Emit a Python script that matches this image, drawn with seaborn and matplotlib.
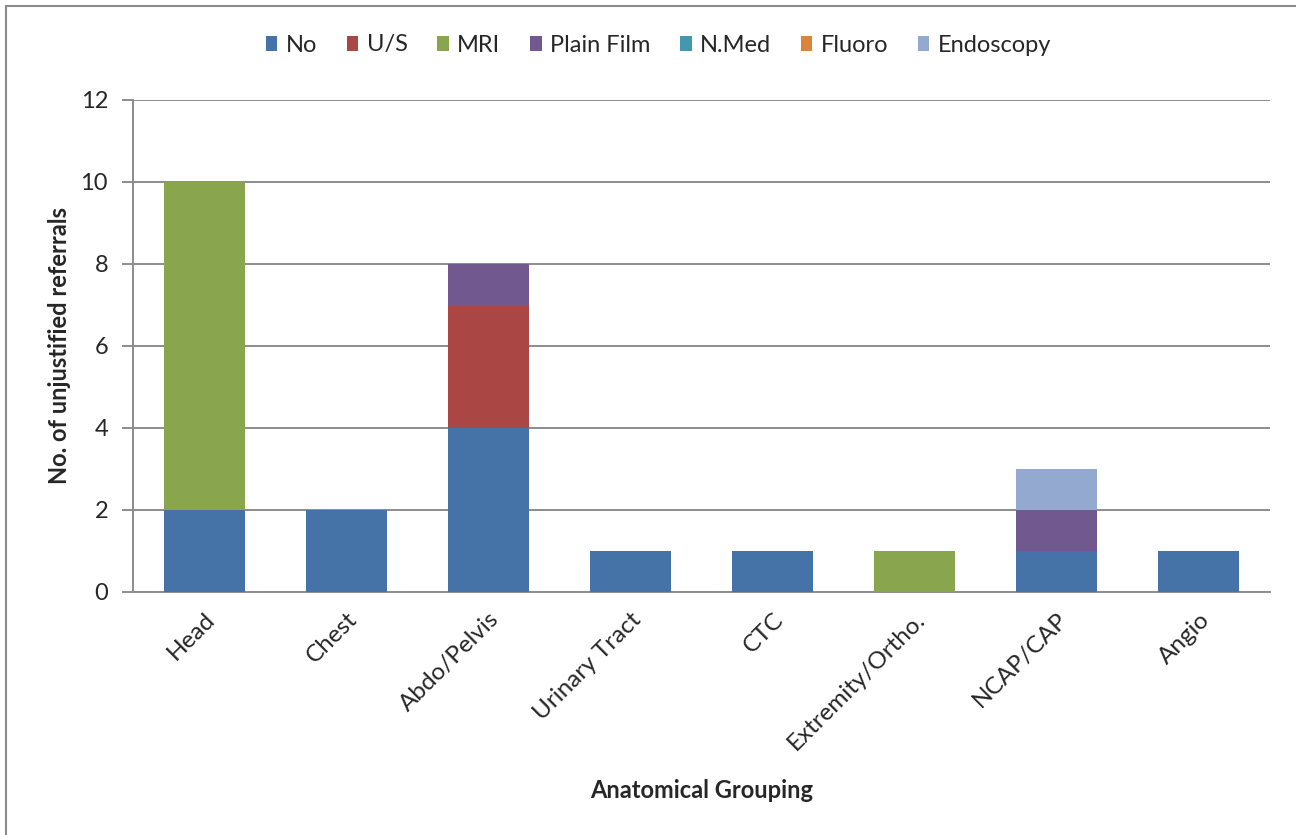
import matplotlib
matplotlib.use("Agg")
import matplotlib.pyplot as plt
from matplotlib.patches import Patch
from matplotlib.lines import Line2D
import numpy as np
import seaborn as sns

categories = ["Head", "Chest", "Abdo/Pelvis", "Urinary Tract", "CTC",
              "Extremity/Ortho.", "NCAP/CAP", "Angio"]
series_names = ["No", "U/S", "MRI", "Plain Film", "N.Med", "Fluoro", "Endoscopy"]
no_vals = [2, 2, 4, 1, 1, 0, 1, 1]
us_vals = [0, 0, 3, 0, 0, 0, 0, 0]
mri_vals = [8, 0, 0, 0, 0, 1, 0, 0]
plain_film_vals = [0, 0, 1, 0, 0, 0, 1, 0]
nmed_vals = [0, 0, 0, 0, 0, 0, 0, 0]
fluoro_vals = [0, 0, 0, 0, 0, 0, 0, 0]
endoscopy_vals = [0, 0, 0, 0, 0, 0, 1, 0]
y_ticks = [0, 2, 4, 6, 8, 10, 12]

colors = ["#4572A7", "#AA4643", "#89A54E", "#71588F", "#4198AF", "#DB843D", "#93A9CF"]

sns.set_theme(style="white")
plt.rcParams["font.family"] = ["Lato", "DejaVu Sans"]

fig = plt.figure(figsize=(12.96, 8.35), dpi=100)
ax = fig.add_axes([133 / 1296, 1 - 592 / 835, (1270 - 133) / 1296, (592 - 100) / 835])

all_series = [no_vals, us_vals, mri_vals, plain_film_vals, nmed_vals, fluoro_vals, endoscopy_vals]
bottom = np.zeros(len(categories))
for vals, col in zip(all_series, colors):
    vals = np.asarray(vals, dtype=float)
    sns.barplot(x=categories, y=vals, bottom=bottom, color=col, width=0.57,
                saturation=1, ax=ax, zorder=3, linewidth=0)
    bottom = bottom + vals

ax.set_ylim(0, 12)
ax.set_xlim(-0.5, len(categories) - 0.5)
ax.set_yticks(y_ticks)
ax.set_yticklabels([str(t) for t in y_ticks], fontsize=17)
ax.yaxis.grid(True, color="#8C8C8C", linewidth=1.4, zorder=0)
ax.set_axisbelow(True)
for side in ["top", "right"]:
    ax.spines[side].set_visible(False)
ax.spines["left"].set_color("#8C8C8C")
ax.spines["left"].set_linewidth(1.4)
ax.spines["bottom"].set_color("#8C8C8C")
ax.spines["bottom"].set_linewidth(1.4)
ax.tick_params(axis="y", length=8, width=1.4, color="#8C8C8C", pad=10, left=True)
ax.tick_params(axis="x", length=0, pad=12)
ax.set_xticks(range(len(categories)))
ax.set_xticklabels(categories, rotation=45, ha="right", rotation_mode="anchor", fontsize=17.5)

ax.set_ylabel("No. of unjustified referrals", fontsize=17, fontweight="bold", labelpad=7)
ax.set_xlabel("Anatomical Grouping", fontsize=17, fontweight="bold", labelpad=18)

handles = [Patch(facecolor=c, edgecolor="none") for c in colors]
fig.legend(handles, series_names, loc="center", bbox_to_anchor=(0.508, 1 - 45 / 835),
           ncol=7, frameon=False, fontsize=17, handlelength=0.5, handleheight=0.6,
           handletextpad=0.35, columnspacing=1.25)

# chart frame on the left and top edges
fig.add_artist(Line2D([6 / 1296, 6 / 1296], [0, 1 - 6 / 835], transform=fig.transFigure,
                      color="#8C8C8C", linewidth=1.5))
fig.add_artist(Line2D([6 / 1296, 1], [1 - 6 / 835, 1 - 6 / 835], transform=fig.transFigure,
                      color="#8C8C8C", linewidth=1.5))

fig.savefig("out.png", dpi=100)
